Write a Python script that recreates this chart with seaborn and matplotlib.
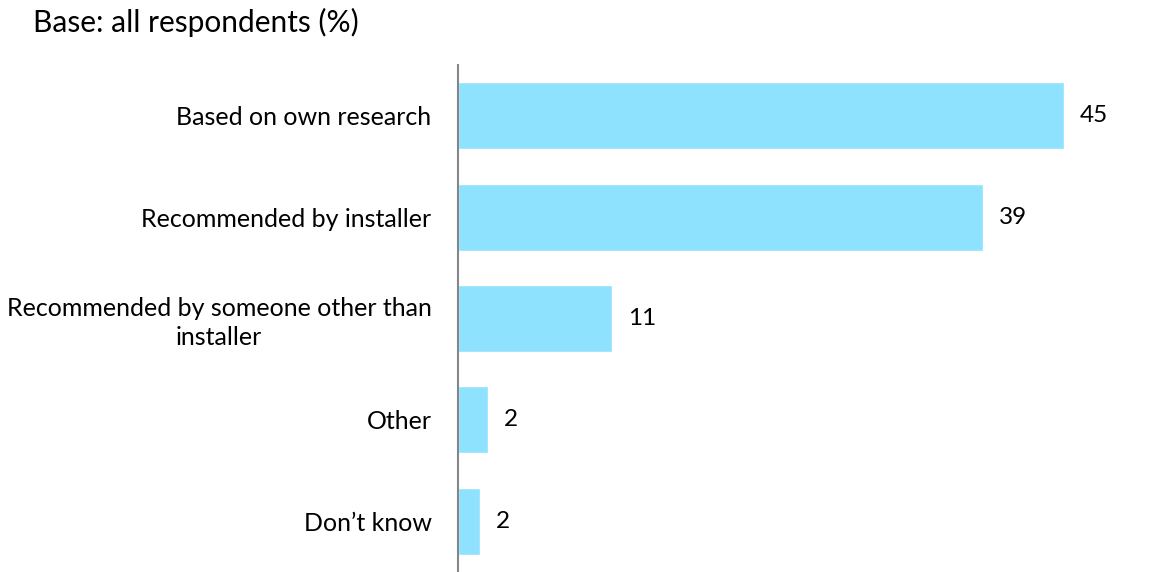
import matplotlib
matplotlib.use("Agg")
import matplotlib.pyplot as plt
import seaborn as sns
import pandas as pd

categories = [
    "Based on own research",
    "Recommended by installer",
    "Recommended by someone other than\ninstaller",
    "Other",
    "Don\u2019t know",
]
values = [45, 39, 11.4, 2.2, 1.6]

sns.set_theme(style="white")
plt.rcParams["font.family"] = ["Lato", "DejaVu Sans"]

df = pd.DataFrame({"category": categories, "pct": values})

fig = plt.figure(figsize=(11.65, 5.72), dpi=100)
ax = fig.add_axes([458 / 1165, 0.0, 707 / 1165, 507 / 572])

sns.barplot(data=df, y="category", x="pct", orient="h", color="#8FE2FD",
            saturation=1, width=0.66, ax=ax)

ax.set_xlim(0, 52.5)
ax.set_ylim(4.5, -0.5)
ax.set_xlabel("")
ax.set_ylabel("")
ax.set_xticks([])
ax.tick_params(axis="y", length=0, pad=19, labelsize=18, labelcolor="#000000")
for lbl in ax.get_yticklabels():
    lbl.set_horizontalalignment("right")
    lbl.set_multialignment("center")
    lbl.set_linespacing(1.3)

for s in ["top", "right", "bottom"]:
    ax.spines[s].set_visible(False)
ax.spines["left"].set_color("#868686")
ax.spines["left"].set_linewidth(1.5)

for i, v in enumerate(values):
    ax.text(v + 1.2, i, f"{v:.0f}", va="center", ha="left",
            fontsize=17.5, color="#000000")

fig.text(33 / 1165, 1 - 22 / 572, "Base: all respondents (%)", ha="left",
         va="center", fontsize=21.5, color="#000000")

fig.savefig("out.png", dpi=100, facecolor="white")
